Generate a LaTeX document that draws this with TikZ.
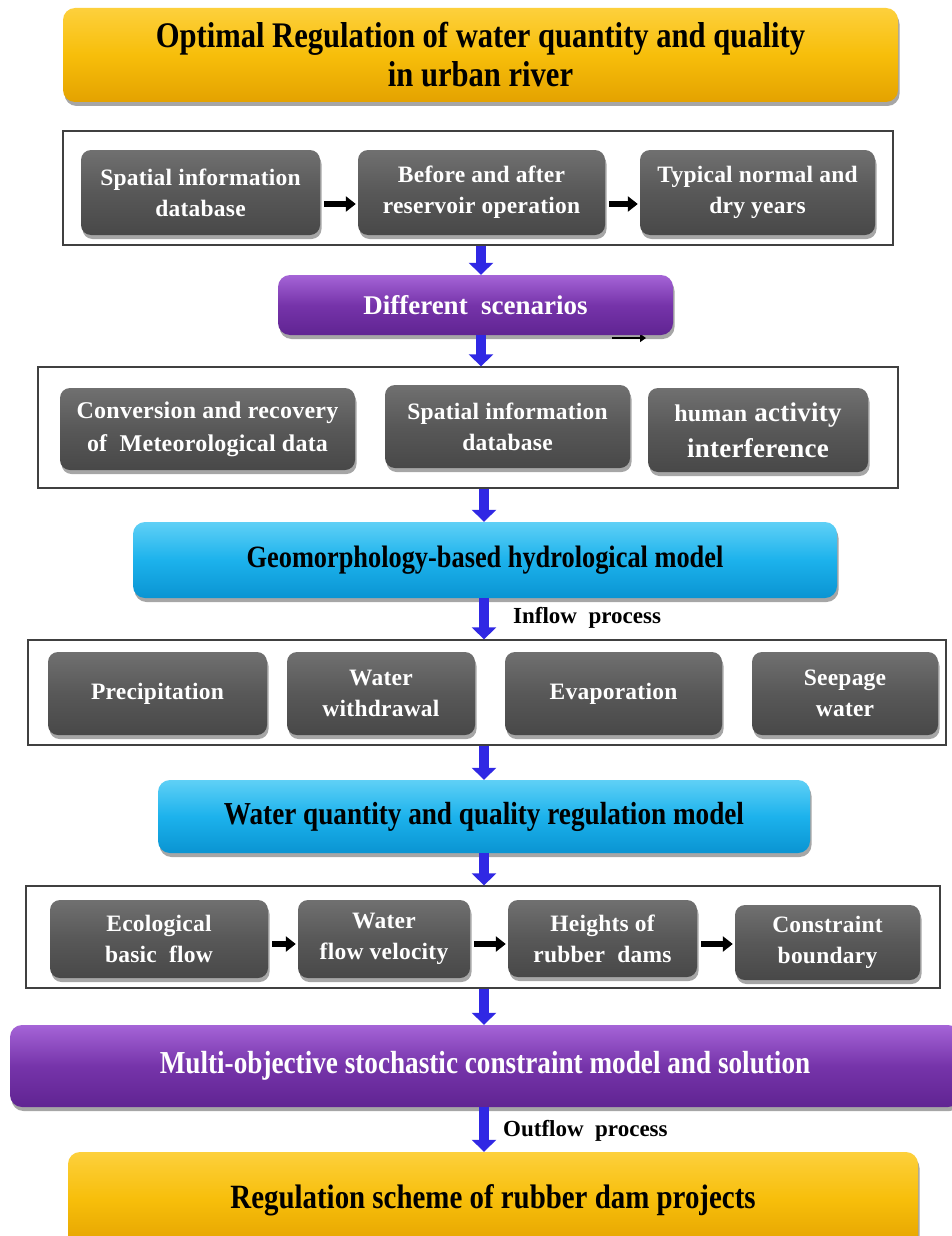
\documentclass[tikz,border=0pt]{standalone}
\usepackage{fontspec}
\setmainfont{Liberation Serif}
\newfontfamily\condfont[FakeStretch=0.85]{Liberation Serif}
\newfontfamily\spacedfont[LetterSpace=1]{Liberation Serif}
\usetikzlibrary{arrows.meta,shadows}

\definecolor{goldA}{RGB}{253,208,60}
\definecolor{goldB}{RGB}{247,190,10}
\definecolor{goldC}{RGB}{228,162,0}
\definecolor{greyA}{RGB}{112,112,112}
\definecolor{greyB}{RGB}{88,88,88}
\definecolor{greyC}{RGB}{72,72,72}
\definecolor{cyanA}{RGB}{95,208,246}
\definecolor{cyanB}{RGB}{28,178,236}
\definecolor{cyanC}{RGB}{10,148,210}
\definecolor{purpA}{RGB}{165,100,215}
\definecolor{purpB}{RGB}{118,52,170}
\definecolor{purpC}{RGB}{96,36,146}
\definecolor{arrowblue}{RGB}{48,40,228}

\tikzset{
  boxshadow/.style={drop shadow={shadow xshift=1.5pt,shadow yshift=-4pt,opacity=0.35,fill=black}},
  goldbox/.style={rounded corners=12pt, top color=goldA, bottom color=goldC, middle color=goldB,
    boxshadow, text=black, align=center, inner sep=0pt, font=\condfont\bfseries},
  cyanbox/.style={rounded corners=12pt, top color=cyanA, bottom color=cyanC, middle color=cyanB,
    boxshadow, text=black, align=center, inner sep=0pt, font=\condfont\bfseries},
  purpbox/.style={rounded corners=12pt, top color=purpA, bottom color=purpC, middle color=purpB,
    boxshadow, text=white, align=center, inner sep=0pt},
  greybox/.style={rounded corners=10pt, top color=greyA, bottom color=greyC, middle color=greyB,
    boxshadow, text=white, align=center, inner sep=0pt},
  panel/.style={draw=black!75, line width=1.3pt, fill=white, inner sep=0pt},
  bluearr/.style={draw=arrowblue, line width=10pt, -{Triangle[width=24pt,length=12pt]}},
  blackarr/.style={draw=black, line width=6pt, shorten <=4pt, shorten >=2pt,
    -{Triangle[width=15pt,length=10pt]}},
  gtext/.style={font=\spacedfont\bfseries\fontsize{23.5}{31}\selectfont},
  flowlabel/.style={anchor=west, inner sep=0pt, font=\bfseries\fontsize{23}{26}\selectfont}
}

\begin{document}
\begin{tikzpicture}[x=1pt,y=-1pt]
\useasboundingbox (0,0) rectangle (951,1236);
\fill[white] (0,0) rectangle (951,1236);

\coordinate (ax1) at (481,0);
\coordinate (ax) at (484,0);
\coordinate (row1) at (0,204);
\coordinate (row4) at (0,944);

% title
\node[goldbox, minimum width=835pt, minimum height=94pt,
  font=\condfont\bfseries\fontsize{36}{39}\selectfont] (title) at (480.5,55)
  {Optimal Regulation of water quantity and quality\\in urban river};

% panel 1
\node[panel, minimum width=830pt, minimum height=114pt] (fr1) at (478,188) {};
\node[greybox, gtext, minimum width=239pt, minimum height=85pt] (p1a) at (200.5,192.5) {Spatial information\\database};
\node[greybox, gtext, minimum width=247pt, minimum height=85pt] (p1b) at (481.5,192.5) {Before and after\\reservoir operation};
\node[greybox, gtext, minimum width=235pt, minimum height=85pt] (p1c) at (757.5,192.5) {Typical normal and\\dry years};
\draw[blackarr] (p1a.east |- row1) -- (p1b.west |- row1);
\draw[blackarr] (p1b.east |- row1) -- (p1c.west |- row1);

% stub behind scenarios box
\coordinate (st1) at (612,338);
\coordinate (st2) at (646,338);
\draw[line width=2.5pt, -{Triangle[width=8pt,length=6pt]}] (st1) -- (st2);

% scenarios
\node[purpbox, minimum width=395pt, minimum height=60pt,
  font=\bfseries\fontsize{27}{30}\selectfont] (scen) at (475.5,305) {Different\ \ scenarios};
\draw[bluearr] (fr1.south -| ax1) -- (scen.north -| ax1);

% panel 2
\node[panel, minimum width=860pt, minimum height=121pt] (fr2) at (468,427.5) {};
\draw[bluearr] (scen.south -| ax1) -- (fr2.north -| ax1);
\node[greybox, minimum width=295pt, minimum height=82pt,
  font=\spacedfont\bfseries\fontsize{24}{33}\selectfont] (p2a) at (207.5,429) {Conversion and recovery\\of\ \ Meteorological data};
\node[greybox, gtext, minimum width=245pt, minimum height=83pt] (p2b) at (507.5,426.5) {Spatial information\\database};
\node[greybox, minimum width=220pt, minimum height=84pt,
  font=\spacedfont\bfseries\fontsize{27}{36}\selectfont] (p2c) at (758,430) {{\fontsize{24}{36}\selectfont human} activity\\interference};

% geomorphology
\node[cyanbox, minimum width=704pt, minimum height=76pt,
  font=\condfont\bfseries\fontsize{31}{34}\selectfont] (geo) at (485,560) {Geomorphology-based\ hydrological model};
\draw[bluearr] (fr2.south -| ax) -- (geo.north -| ax);

% panel 3
\node[panel, minimum width=918pt, minimum height=105pt] (fr3) at (487,692.5) {};
\draw[bluearr] (geo.south -| ax) -- (fr3.north -| ax);
\node[flowlabel] (inflow) at (513,618) {Inflow\ \ process};
\node[greybox, gtext, minimum width=219pt, minimum height=83pt] (p3a) at (157.5,693.5) {Precipitation};
\node[greybox, gtext, minimum width=188pt, minimum height=83pt] (p3b) at (381,693.5) {Water\\withdrawal};
\node[greybox, gtext, minimum width=217pt, minimum height=83pt] (p3c) at (613.5,693.5) {Evaporation};
\node[greybox, gtext, minimum width=186pt, minimum height=83pt] (p3d) at (845,693.5) {Seepage\\water};

% water quantity model
\node[cyanbox, minimum width=652pt, minimum height=73pt,
  font=\condfont\bfseries\fontsize{32}{35}\selectfont] (wq) at (484,816.5) {Water quantity and quality regulation model};
\draw[bluearr] (fr3.south -| ax) -- (wq.north -| ax);

% panel 4
\node[panel, minimum width=914pt, minimum height=102pt] (fr4) at (483,937) {};
\draw[bluearr] (wq.south -| ax) -- (fr4.north -| ax);
\node[greybox, gtext, minimum width=218pt, minimum height=78pt] (p4a) at (159,939) {Ecological\\basic\ \ flow};
\node[greybox, gtext, minimum width=172pt, minimum height=78pt] (p4b) at (384,939) {Water\\flow velocity};
\node[greybox, gtext, minimum width=189pt, minimum height=77pt] (p4c) at (602.5,938.5) {Heights of\\rubber\ \ dams};
\node[greybox, gtext, minimum width=185pt, minimum height=75pt] (p4d) at (827.5,942.5) {Constraint\\boundary};
\draw[blackarr] (p4a.east |- row4) -- (p4b.west |- row4);
\draw[blackarr] (p4b.east |- row4) -- (p4c.west |- row4);
\draw[blackarr] (p4c.east |- row4) -- (p4d.west |- row4);

% multi-objective
\node[purpbox, minimum width=950pt, minimum height=82pt,
  font=\condfont\bfseries\fontsize{32}{35}\selectfont] (mo) at (485,1066) {Multi-objective stochastic constraint model and solution};
\draw[bluearr] (fr4.south -| ax) -- (mo.north -| ax);

% final
\node[goldbox, minimum width=850pt, minimum height=96pt,
  font=\condfont\bfseries\fontsize{34}{37}\selectfont] (final) at (493,1200) {Regulation scheme of rubber dam projects};
\draw[bluearr] (mo.south -| ax) -- (final.north -| ax);
\node[flowlabel] (outflow) at (503,1131) {Outflow\ \ process};
\end{tikzpicture}
\end{document}
